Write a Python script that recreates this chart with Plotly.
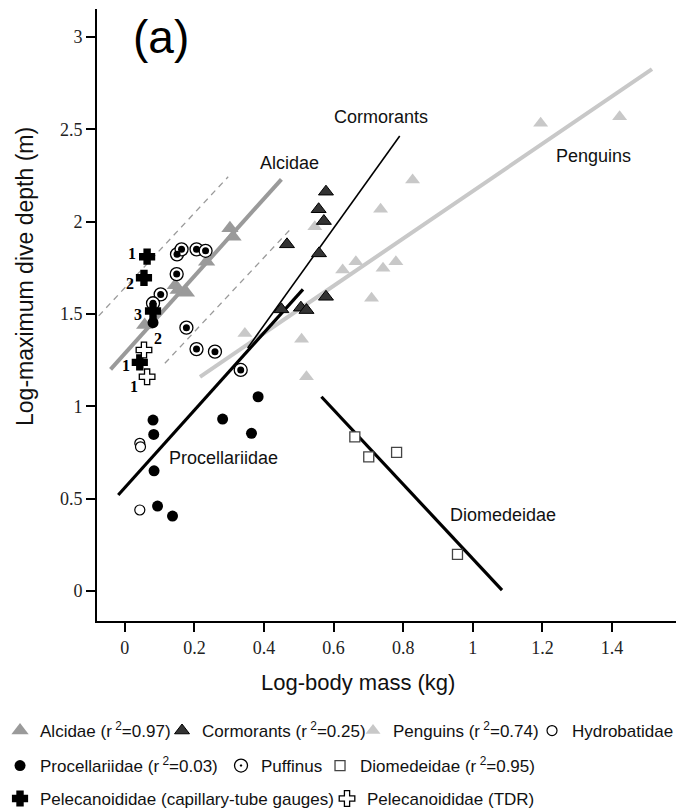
import plotly.graph_objects as go

# ---------------- data (log10 body mass kg, log10 max dive depth m) ----------------
alcidae_x = [0.302, 0.311, 0.235, 0.145, 0.153, 0.177, 0.057]
alcidae_y = [1.964, 1.918, 1.783, 1.655, 1.630, 1.615, 1.440]

cormorant_x = [0.578, 0.557, 0.572, 0.466, 0.558, 0.578, 0.450, 0.506, 0.522]
cormorant_y = [2.162, 2.067, 2.003, 1.877, 1.828, 1.593, 1.525, 1.534, 1.521]

penguin_x = [1.195, 1.422, 0.827, 0.735, 0.546, 0.664, 0.779, 0.742, 0.626, 0.709, 0.508, 0.522, 0.345]
penguin_y = [2.532, 2.568, 2.225, 2.067, 1.972, 1.783, 1.783, 1.747, 1.738, 1.585, 1.363, 1.160, 1.395]

hydro_x = [0.043, 0.045, 0.043]
hydro_y = [0.800, 0.781, 0.439]

procell_x = [0.081, 0.383, 0.081, 0.083, 0.084, 0.094, 0.137, 0.281, 0.364]
procell_y = [1.453, 1.052, 0.926, 0.848, 0.651, 0.460, 0.406, 0.931, 0.854]

puffinus_x = [0.150, 0.163, 0.206, 0.232, 0.149, 0.103, 0.081, 0.177, 0.206, 0.259, 0.333]
puffinus_y = [1.823, 1.850, 1.850, 1.842, 1.716, 1.606, 1.558, 1.426, 1.310, 1.296, 1.197]

diomed_x = [0.661, 0.701, 0.781, 0.956]
diomed_y = [0.835, 0.727, 0.751, 0.199]

pelec_cap_x = [0.064, 0.055, 0.081, 0.043]
pelec_cap_y = [1.810, 1.696, 1.516, 1.238]
pelec_cap_labels = ["1", "2", "3", "1"]

pelec_tdr_x = [0.055, 0.064]
pelec_tdr_y = [1.305, 1.160]
pelec_tdr_labels = ["2", "1"]

# regression lines (end points)
alcidae_fit_x = [-0.041, 0.450]
alcidae_fit_y = [1.200, 2.229]
alcidae_upper_x = [-0.075, 0.297]
alcidae_upper_y = [1.490, 2.243]
alcidae_lower_x = [0.115, 0.474]
alcidae_lower_y = [1.233, 1.955]
cormorant_fit_x = [0.353, 0.790]
cormorant_fit_y = [1.316, 2.463]
penguin_fit_x = [0.216, 1.515]
penguin_fit_y = [1.160, 2.825]
procell_fit_x = [-0.019, 0.512]
procell_fit_y = [0.520, 1.633]
diomed_fit_x = [0.565, 1.084]
diomed_fit_y = [1.052, 0.005]

x_ticks = [0, 0.2, 0.4, 0.6, 0.8, 1, 1.2, 1.4]
y_ticks = [0, 0.5, 1, 1.5, 2, 2.5, 3]

# ---------------- styling ----------------
SANS = "Liberation Sans, Arial, sans-serif"
SERIF = "Liberation Serif, Times New Roman, serif"
C_ALC = "#9a9a9a"
C_PEN = "#c8c8c8"
C_COR = "#333333"

fig = go.Figure()

def line(xs, ys, color, width, dash="solid"):
    fig.add_trace(go.Scatter(x=xs, y=ys, mode="lines", showlegend=False,
                             hoverinfo="skip",
                             line=dict(color=color, width=width, dash=dash)))

line(alcidae_upper_x, alcidae_upper_y, C_ALC, 1.3, "6px,5px")
line(alcidae_lower_x, alcidae_lower_y, C_ALC, 1.3, "6px,5px")
line(penguin_fit_x, penguin_fit_y, C_PEN, 4)
line(alcidae_fit_x, alcidae_fit_y, C_ALC, 4)
line(cormorant_fit_x, cormorant_fit_y, "black", 1.6)
line(procell_fit_x, procell_fit_y, "black", 3.2)
line(diomed_fit_x, diomed_fit_y, "black", 3.2)

R2 = "r\u2009<sup>2</sup>"

fig.add_trace(go.Scatter(x=penguin_x, y=penguin_y, mode="markers",
                         name=f"Penguins ({R2}=0.74)", legend="legend", legendrank=3,
                         legendwidth=134,
                         marker=dict(symbol="triangle-up", size=13, color=C_PEN,
                                     line=dict(width=0))))
fig.add_trace(go.Scatter(x=alcidae_x, y=alcidae_y, mode="markers",
                         name=f"Alcidae ({R2}=0.97)", legend="legend", legendrank=1,
                         legendwidth=117,
                         marker=dict(symbol="triangle-up", size=15, color=C_ALC,
                                     line=dict(width=0))))
fig.add_trace(go.Scatter(x=cormorant_x, y=cormorant_y, mode="markers",
                         name=f"Cormorants ({R2}=0.25)", legend="legend", legendrank=2,
                         legendwidth=146,
                         marker=dict(symbol="triangle-up", size=13, color=C_COR,
                                     line=dict(width=1, color="black"))))
fig.add_trace(go.Scatter(x=hydro_x, y=hydro_y, mode="markers",
                         name="Hydrobatidae", legend="legend", legendrank=4,
                         marker=dict(symbol="circle", size=10, color="white",
                                     line=dict(width=1.2, color="black"))))
fig.add_trace(go.Scatter(x=procell_x, y=procell_y, mode="markers",
                         name=f"Procellariidae ({R2}=0.03)", legend="legend2", legendrank=1,
                         legendwidth=176,
                         marker=dict(symbol="circle", size=11, color="black",
                                     line=dict(width=0))))
fig.add_trace(go.Scatter(x=puffinus_x, y=puffinus_y, mode="markers",
                         name="Puffinus", legend="legend2", legendrank=2,
                         legendwidth=54,
                         marker=dict(symbol="circle-dot", size=13, color="white",
                                     line=dict(width=1.3, color="black"))))
fig.add_trace(go.Scatter(x=puffinus_x, y=puffinus_y, mode="markers",
                         showlegend=False, hoverinfo="skip",
                         marker=dict(symbol="circle", size=7, color="black",
                                     line=dict(width=0))))
fig.add_trace(go.Scatter(x=diomed_x, y=diomed_y, mode="markers",
                         name=f"Diomedeidae ({R2}=0.95)", legend="legend2", legendrank=3,
                         marker=dict(symbol="square", size=10, color="white",
                                     line=dict(width=1.3, color="#444444"))))
fig.add_trace(go.Scatter(x=pelec_cap_x, y=pelec_cap_y, mode="markers",
                         name="Pelecanoididae (capillary-tube gauges)", legend="legend3",
                         legendrank=1, legendwidth=282,
                         marker=dict(symbol="cross", size=11, color="black",
                                     line=dict(width=3, color="black"))))
fig.add_trace(go.Scatter(x=pelec_tdr_x, y=pelec_tdr_y, mode="markers",
                         name="Pelecanoididae (TDR)", legend="legend3", legendrank=2,
                         marker=dict(symbol="cross", size=13, color="white",
                                     line=dict(width=1.3, color="black"))))

# number labels next to the diving-petrel crosses
cap_offsets = [(-15, 3), (-14, -6), (-15, -3), (-14, -3)]
for (x, y, t, (dx, dy)) in zip(pelec_cap_x, pelec_cap_y, pelec_cap_labels, cap_offsets):
    fig.add_annotation(x=x, y=y, text=f"<b>{t}</b>", showarrow=False,
                       xshift=dx, yshift=dy, font=dict(family=SERIF, size=16, color="black"))
tdr_offsets = [(14, 12), (-13, -10)]
for (x, y, t, (dx, dy)) in zip(pelec_tdr_x, pelec_tdr_y, pelec_tdr_labels, tdr_offsets):
    fig.add_annotation(x=x, y=y, text=f"<b>{t}</b>", showarrow=False,
                       xshift=dx, yshift=dy, font=dict(family=SERIF, size=16, color="black"))

# group labels
group_labels = [
    ("Alcidae", 0.474, 2.316),
    ("Cormorants", 0.735, 2.568),
    ("Penguins", 1.348, 2.355),
    ("Procellariidae", 0.284, 0.718),
    ("Diomedeidae", 1.086, 0.411),
]
for t, x, y in group_labels:
    fig.add_annotation(x=x, y=y, text=t, showarrow=False,
                       font=dict(family=SANS, size=18, color="#111111"))

fig.add_annotation(x=0.103, y=3.0, text="(a)", showarrow=False,
                   font=dict(family=SANS, size=46, color="black"))

# axis titles as annotations (positioned like the original)
fig.add_annotation(xref="paper", yref="paper", x=0.451, y=-0.1013,
                   xanchor="center", yanchor="middle",
                   text="Log-body mass (kg)", showarrow=False,
                   font=dict(family=SANS, size=22, color="#111111"))
fig.add_annotation(xref="paper", yref="paper", x=-0.1244, y=0.5637,
                   xanchor="center", yanchor="middle",
                   text="Log-maximum dive depth (m)", showarrow=False, textangle=-90,
                   font=dict(family=SANS, size=23, color="#111111"))

axis_common = dict(showline=True, linecolor="black", linewidth=2, ticks="outside",
                   ticklen=9, tickwidth=2, tickcolor="black", showgrid=False,
                   zeroline=False, mirror=False,
                   tickfont=dict(family=SERIF, size=18, color="#222222"))

fig.update_xaxes(range=[-0.080, 1.584], tickvals=x_ticks, **axis_common)
fig.update_yaxes(range=[-0.162, 3.151], tickvals=y_ticks, **axis_common)

leg_common = dict(orientation="h", xref="paper", yref="paper", x=-0.1675,
                  xanchor="left", yanchor="middle", bgcolor="rgba(0,0,0,0)",
                  font=dict(family=SANS, size=17, color="#111111"),
                  itemsizing="trace", tracegroupgap=0)

fig.update_layout(
    width=693, height=810,
    margin=dict(l=97, r=17, t=9, b=189, autoexpand=False),
    paper_bgcolor="white", plot_bgcolor="white",
    legend=dict(y=-0.1797, **leg_common),
    legend2=dict(y=-0.2369, **leg_common),
    legend3=dict(y=-0.2908, **leg_common),
)

fig.write_html("out.html")
